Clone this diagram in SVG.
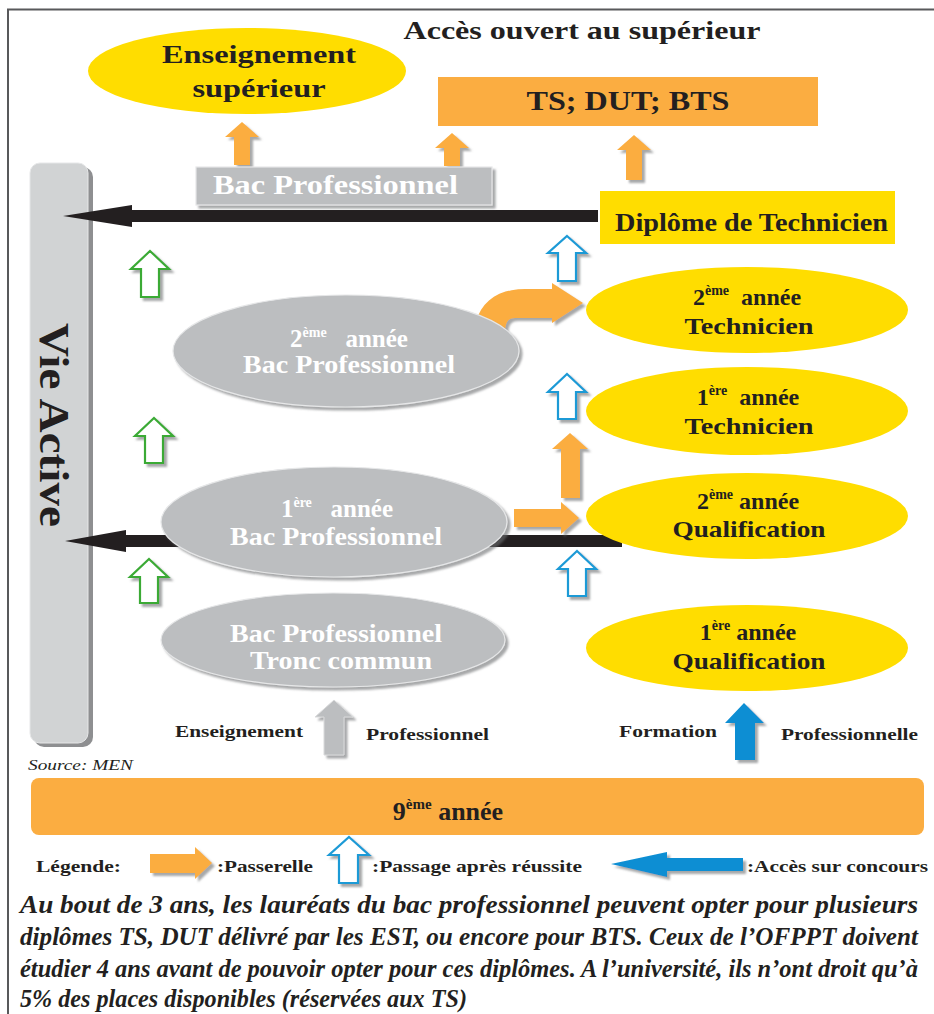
<svg xmlns="http://www.w3.org/2000/svg" width="934" height="1014" viewBox="0 0 934 1014">
<style>
text{font-family:"Liberation Serif","Times New Roman",serif;font-weight:bold;}
.dk{fill:#231F20;}
.wh{fill:#FFFFFF;}
.or{fill:#FBAD41;}
.ye{fill:#FFDD00;}
.gr{fill:#BCBEC0;stroke:#E6E7E8;stroke-width:1.2;}
.gout{fill:#FFFFFF;stroke:#3BAA35;stroke-width:2.2;}
.bout{fill:#FFFFFF;stroke:#1D9AD6;stroke-width:2.2;}
.blk{fill:#231F20;}
.bl{fill:#0E8ED3;}
.sh{filter:url(#shadow);}
</style>
<defs>
<filter id="shadow" x="-20%" y="-20%" width="150%" height="150%">
<feDropShadow dx="3" dy="3" stdDeviation="1.2" flood-color="#6D6E71" flood-opacity="0.6"/>
</filter>
</defs>

<!-- frame -->
<path d="M8,1014 L8,9.5 L934,9.5" fill="none" stroke="#58595B" stroke-width="2"/>

<g id="title">
<text x="582" y="39" text-anchor="middle" font-size="26" textLength="357" lengthAdjust="spacingAndGlyphs" class="dk">Accès ouvert au supérieur</text>
</g>

<g id="vie-active">
<rect x="34" y="167" width="59" height="580" rx="10" fill="#8E8F91"/>
<rect x="30" y="163" width="58" height="580" rx="10" fill="#D1D3D4" stroke="#E6E7E8" stroke-width="1"/>
<text transform="translate(40,425) rotate(90)" text-anchor="middle" font-size="43" textLength="204" lengthAdjust="spacingAndGlyphs" class="dk">Vie Active</text>
</g>

<g id="connectors">
<!-- black arrows to Vie Active -->
<path class="blk" d="M63,216 L132,205 L132,210 L598,210 L598,222 L132,222 L132,227 Z"/>
<path class="blk" d="M65,541 L126,530 L126,535 L622,535 L622,547 L126,547 L126,552 Z"/>
<!-- orange up arrows to top -->
<path class="or sh" d="M242,122 L259,137 L250,137 L250,165 L234,165 L234,137 L225,137 Z"/>
<path class="or sh" d="M452,133 L469,148 L460,148 L460,166 L444,166 L444,148 L435,148 Z"/>
<path class="or sh" d="M634,135 L651,150 L642,150 L642,180 L626,180 L626,150 L617,150 Z"/>
<!-- green outline arrows -->
<path class="gout sh" d="M150,251 L169,269 L159,269 L159,297 L141,297 L141,269 L131,269 Z"/>
<path class="gout sh" d="M154,418 L173,436 L163,436 L163,463 L145,463 L145,436 L135,436 Z"/>
<path class="gout sh" d="M149,559 L168,577 L158,577 L158,603 L140,603 L140,577 L130,577 Z"/>
<!-- blue outline arrows -->
<path class="bout sh" d="M567,236 L586,253 L576,253 L576,281 L558,281 L558,253 L548,253 Z"/>
<path class="bout sh" d="M567,374 L586,392 L576,392 L576,419 L558,419 L558,392 L548,392 Z"/>
<path class="bout sh" d="M577,551 L596,569 L586,569 L586,596 L568,596 L568,569 L558,569 Z"/>
<!-- orange passerelles -->
<path class="or sh" d="M476,322 C482,300 500,289 525,289 L552,289 L552,283 L583,303 L552,323 L552,318 L515,318 C508,318 506,322 505,330 Z"/>
<path class="or sh" d="M570,433 L588,449 L580,449 L580,498 L561,498 L561,449 L552,449 Z"/>
<path class="or sh" d="M514,509 L561,509 L561,502 L579,518 L561,534 L561,527 L514,527 Z"/>
<!-- bottom entry arrows -->
<path fill="#BCBEC0" stroke="#D9DADB" stroke-width="1" class="sh" d="M334,700 L353,717 L344,717 L344,755 L324,755 L324,717 L315,717 Z"/>
<path class="bl sh" d="M744,703 L764,723 L755,723 L755,760 L735,760 L735,723 L725,723 Z"/>
</g>

<g id="enseignement-superieur">
<ellipse cx="247" cy="71" rx="159" ry="43" class="ye"/>
<text x="259" y="63" text-anchor="middle" font-size="26" textLength="194" lengthAdjust="spacingAndGlyphs" class="dk">Enseignement</text>
<text x="259" y="97" text-anchor="middle" font-size="26" textLength="133" lengthAdjust="spacingAndGlyphs" class="dk">supérieur</text>
</g>

<g id="ts-dut-bts">
<rect x="438" y="77" width="380" height="49" class="or"/>
<text x="628" y="110" text-anchor="middle" font-size="27" textLength="203" lengthAdjust="spacingAndGlyphs" class="dk">TS; DUT; BTS</text>
</g>

<g id="bac-pro">
<rect x="196" y="167" width="296" height="38" class="gr sh"/>
<text x="213" y="194" font-size="27" textLength="245" lengthAdjust="spacingAndGlyphs" class="wh">Bac Professionnel</text>
</g>

<g id="diplome-technicien">
<rect x="600" y="191" width="295" height="53" class="ye"/>
<text x="615" y="231" font-size="25" textLength="273" lengthAdjust="spacingAndGlyphs" class="dk">Diplôme de Technicien</text>
</g>

<g id="bac-pro-2">
<ellipse cx="346" cy="351" rx="173" ry="56" class="gr sh"/>
<text x="349" y="347" text-anchor="middle" font-size="25" class="wh">2<tspan font-size="14" dy="-10">ème</tspan><tspan dy="10" xml:space="preserve">   année</tspan></text>
<text x="349" y="373" text-anchor="middle" font-size="25" textLength="212" lengthAdjust="spacingAndGlyphs" class="wh">Bac Professionnel</text>
</g>

<g id="bac-pro-1">
<ellipse cx="334" cy="522" rx="173" ry="55" class="gr sh"/>
<text x="337" y="517" text-anchor="middle" font-size="25" class="wh">1<tspan font-size="14" dy="-10">ère</tspan><tspan dy="10" xml:space="preserve">   année</tspan></text>
<text x="336" y="545" text-anchor="middle" font-size="25" textLength="212" lengthAdjust="spacingAndGlyphs" class="wh">Bac Professionnel</text>
</g>

<g id="tronc-commun">
<ellipse cx="333" cy="640" rx="172" ry="47" class="gr sh"/>
<text x="336" y="642" text-anchor="middle" font-size="25" textLength="212" lengthAdjust="spacingAndGlyphs" class="wh">Bac Professionnel</text>
<text x="341" y="669" text-anchor="middle" font-size="25" textLength="182" lengthAdjust="spacingAndGlyphs" class="wh">Tronc commun</text>
</g>

<g id="technicien-2">
<ellipse cx="747" cy="310" rx="161" ry="43" class="ye"/>
<text x="747" y="305" text-anchor="middle" font-size="24" class="dk">2<tspan font-size="14" dy="-10">ème</tspan><tspan dy="10" xml:space="preserve">  année</tspan></text>
<text x="749" y="334" text-anchor="middle" font-size="24" textLength="129" lengthAdjust="spacingAndGlyphs" class="dk">Technicien</text>
</g>

<g id="technicien-1">
<ellipse cx="747" cy="411" rx="161" ry="44" class="ye"/>
<text x="748" y="405" text-anchor="middle" font-size="24" class="dk">1<tspan font-size="14" dy="-10">ère</tspan><tspan dy="10" xml:space="preserve">  année</tspan></text>
<text x="749" y="434" text-anchor="middle" font-size="24" textLength="129" lengthAdjust="spacingAndGlyphs" class="dk">Technicien</text>
</g>

<g id="qualification-2">
<ellipse cx="747" cy="516" rx="161" ry="43" class="ye"/>
<text x="748" y="509" text-anchor="middle" font-size="24" class="dk">2<tspan font-size="14" dy="-10">ème</tspan><tspan dy="10" xml:space="preserve"> année</tspan></text>
<text x="749" y="537" text-anchor="middle" font-size="24" textLength="153" lengthAdjust="spacingAndGlyphs" class="dk">Qualification</text>
</g>

<g id="qualification-1">
<ellipse cx="747" cy="648" rx="161" ry="43" class="ye"/>
<text x="748" y="640" text-anchor="middle" font-size="24" class="dk">1<tspan font-size="14" dy="-10">ère</tspan><tspan dy="10" xml:space="preserve"> année</tspan></text>
<text x="749" y="669" text-anchor="middle" font-size="24" textLength="153" lengthAdjust="spacingAndGlyphs" class="dk">Qualification</text>
</g>

<g id="labels">
<text x="175" y="737" font-size="16" textLength="128" lengthAdjust="spacingAndGlyphs" class="dk">Enseignement</text>
<text x="366" y="740" font-size="16" textLength="123" lengthAdjust="spacingAndGlyphs" class="dk">Professionnel</text>
<text x="619" y="737" font-size="16" textLength="98" lengthAdjust="spacingAndGlyphs" class="dk">Formation</text>
<text x="781" y="740" font-size="16" textLength="137" lengthAdjust="spacingAndGlyphs" class="dk">Professionnelle</text>
<text x="28" y="770" font-size="15" font-style="italic" style="font-weight:normal" textLength="105" lengthAdjust="spacingAndGlyphs" class="dk">Source: MEN</text>
</g>

<g id="neuvieme">
<rect x="31" y="778" width="893" height="57" rx="8" class="or"/>
<text x="448" y="820" text-anchor="middle" font-size="26" class="dk">9<tspan font-size="15" dy="-11">ème</tspan><tspan dy="11"> année</tspan></text>
</g>

<g id="legend">
<text x="36" y="872" font-size="16" textLength="85" lengthAdjust="spacingAndGlyphs" class="dk">Légende:</text>
<path class="or sh" d="M150,854 L195,854 L195,847 L212,863 L195,879 L195,873 L150,873 Z"/>
<text x="217" y="872" font-size="16" textLength="96" lengthAdjust="spacingAndGlyphs" class="dk">:Passerelle</text>
<path class="bout sh" d="M349,837 L369,855 L358,855 L358,883 L339,883 L339,855 L329,855 Z"/>
<text x="372" y="872" font-size="16" textLength="210" lengthAdjust="spacingAndGlyphs" class="dk">:Passage après réussite</text>
<path class="bl sh" d="M611,864 L667,852 L667,858 L743,858 L743,871 L667,871 L667,877 Z"/>
<text x="747" y="872" font-size="16" textLength="181" lengthAdjust="spacingAndGlyphs" class="dk">:Accès sur concours</text>
</g>

<g id="paragraph" font-style="italic">
<text x="20" y="913" font-size="25" textLength="898" lengthAdjust="spacingAndGlyphs" class="dk">Au bout de 3 ans, les lauréats du bac professionnel peuvent opter pour plusieurs</text>
<text x="20" y="945" font-size="25" textLength="898" lengthAdjust="spacingAndGlyphs" class="dk">diplômes TS, DUT délivré par les EST, ou encore pour BTS. Ceux de l’OFPPT doivent</text>
<text x="20" y="977" font-size="25" textLength="898" lengthAdjust="spacingAndGlyphs" class="dk">étudier 4 ans avant de pouvoir opter pour ces diplômes. A l’université, ils n’ont droit qu’à</text>
<text x="20" y="1007" font-size="25" textLength="447" lengthAdjust="spacingAndGlyphs" class="dk">5% des places disponibles (réservées aux TS)</text>
</g>
</svg>
